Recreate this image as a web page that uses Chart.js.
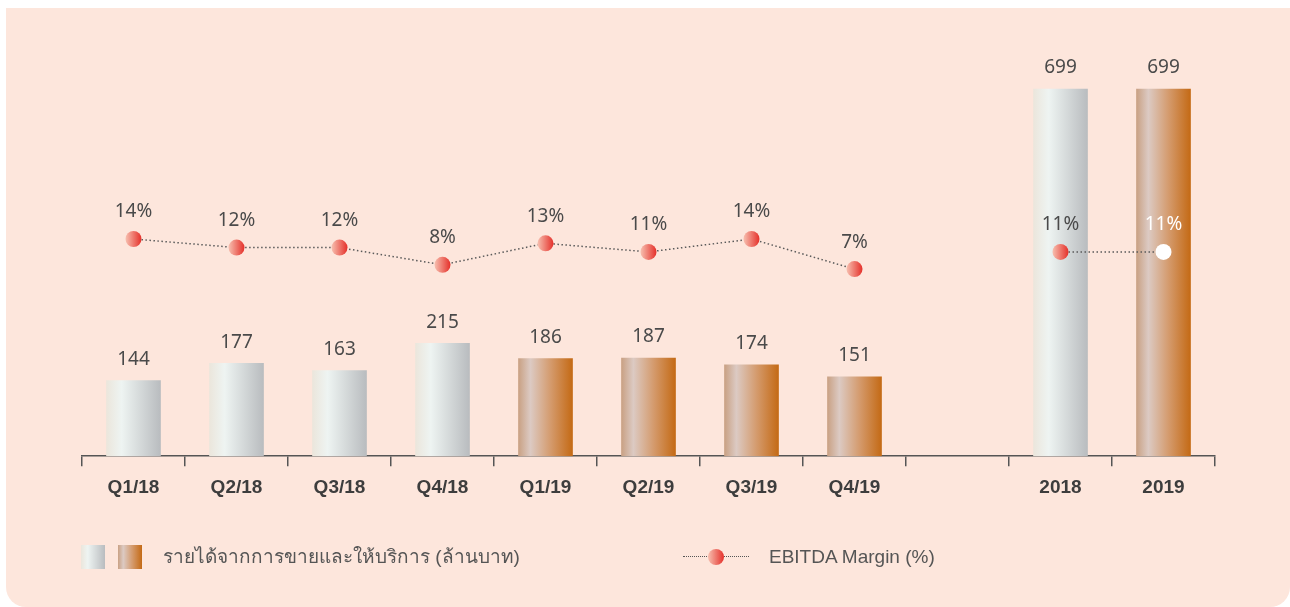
<!DOCTYPE html>
<html>
<head>
<meta charset="utf-8">
<script src="https://cdn.jsdelivr.net/npm/chart.js@4.4.0/dist/chart.umd.min.js"></script>
<style>
    body { margin: 0; background: #ffffff; width: 1290px; height: 607px; overflow: hidden; position: relative; }
    #card { position: absolute; left: 6px; top: 8px; width: 1284px; height: 599px; background: #fde6dc; border-radius: 0 0 20px 20px; }
    #wrap { position: absolute; left: 0; top: 0; width: 1290px; height: 607px; }
    .legend { position: absolute; top: 544px; height: 26px; font-family: "Liberation Sans", "Noto Sans", sans-serif; font-size: 19px; color: #555555; line-height: 26px; }
    .sw { position: absolute; top: 1px; width: 24px; height: 24px; }
    .grey { background: linear-gradient(to right, #ebe6dc 0%, #eef4f2 28%, #b9bcbf 100%); }
    .orange { background: linear-gradient(to right, #c9a184 0%, #dccac3 22%, #d49a6c 60%, #c46a15 100%); }
    .dots { position: absolute; top: 12px; width: 66px; border-top: 1.5px dotted #555555; }
    .dot { position: absolute; top: 5px; width: 16px; height: 16px; border-radius: 50%; background: linear-gradient(to right, #f7c0b0, #e5302a); }
</style>
</head>
<body>
<div id="card"></div>
<div id="wrap"><canvas id="chart"></canvas></div>
<div class="legend" style="left:0;">
    <div class="sw grey" style="left:81px;"></div>
    <div class="sw orange" style="left:118px;"></div>
    <span style="position:absolute; left:163px; white-space:nowrap;">รายได้จากการขายและให้บริการ (ล้านบาท)</span>
</div>
<div class="legend" style="left:0;">
    <div class="dots" style="left:683px;"></div>
    <div class="dot" style="left:708px;"></div>
    <span style="position:absolute; left:769px; white-space:nowrap;">EBITDA Margin (%)</span>
</div>
<script>
const categories = ['Q1/18', 'Q2/18', 'Q3/18', 'Q4/18', 'Q1/19', 'Q2/19', 'Q3/19', 'Q4/19', '', '2018', '2019'];
const barYear = ['2018', '2018', '2018', '2018', '2019', '2019', '2019', '2019', '', '2018', '2019'];
const revenue = [144, 177, 163, 215, 186, 187, 174, 151, null, 699, 699];
const ebitdaMargin = [14, 12, 12, 8, 13, 11, 14, 7, null, 11, 11];

const BAR_W = 54;

function barGradient(context) {
    const chart = context.chart;
    if (!chart.chartArea) return '#cccccc';
    const x = chart.scales.x.getPixelForValue(context.dataIndex);
    const g = chart.ctx.createLinearGradient(x - BAR_W / 2, 0, x + BAR_W / 2, 0);
    if (barYear[context.dataIndex] === '2019') {
        g.addColorStop(0, '#c9a184');
        g.addColorStop(0.22, '#dccac3');
        g.addColorStop(0.6, '#d49a6c');
        g.addColorStop(1, '#c46a15');
    } else {
        g.addColorStop(0, '#ebe6dc');
        g.addColorStop(0.28, '#eef4f2');
        g.addColorStop(1, '#b9bcbf');
    }
    return g;
}

function pointGradient(context) {
    const chart = context.chart;
    if (!chart.chartArea) return '#e5302a';
    if (context.dataIndex === categories.length - 1) return '#ffffff';
    const x = chart.scales.x.getPixelForValue(context.dataIndex);
    const g = chart.ctx.createLinearGradient(x - 8, 0, x + 8, 0);
    g.addColorStop(0, '#f7c0b0');
    g.addColorStop(1, '#e5302a');
    return g;
}

const valueLabels = {
    id: 'valueLabels',
    afterDatasetsDraw(chart) {
        const ctx = chart.ctx;
        ctx.save();
        ctx.textAlign = 'center';
        ctx.textBaseline = 'middle';
        ctx.font = '19px "Noto Sans", "Liberation Sans", sans-serif';
        chart.getDatasetMeta(1).data.forEach(function (bar, i) {
            if (revenue[i] === null) return;
            ctx.fillStyle = '#4a4a4a';
            ctx.fillText(String(revenue[i]), bar.x, bar.y - 21);
        });
        chart.getDatasetMeta(0).data.forEach(function (pt, i) {
            if (ebitdaMargin[i] === null) return;
            ctx.fillStyle = i === categories.length - 1 ? '#ffffff' : '#4a4a4a';
            ctx.fillText(ebitdaMargin[i] + '%', pt.x, pt.y - 27);
        });
        ctx.restore();
    }
};

const chart = new Chart(document.getElementById('chart'), {
    data: {
        labels: categories,
        datasets: [
            {
                type: 'line',
                label: 'EBITDA Margin (%)',
                data: ebitdaMargin,
                yAxisID: 'y1',
                borderColor: '#5a5a5a',
                borderWidth: 1.5,
                borderDash: [1.5, 2.5],
                pointRadius: 8,
                pointHoverRadius: 8,
                pointBorderWidth: 0,
                pointBackgroundColor: pointGradient,
                spanGaps: false,
                order: 0
            },
            {
                type: 'bar',
                label: 'รายได้จากการขายและให้บริการ (ล้านบาท)',
                data: revenue,
                yAxisID: 'y',
                backgroundColor: barGradient,
                barThickness: BAR_W,
                order: 1
            }
        ]
    },
    options: {
        responsive: true,
        maintainAspectRatio: false,
        animation: false,
        layout: {
            padding: { left: 82, right: 75, top: 36, bottom: 98 }
        },
        plugins: {
            legend: { display: false },
            tooltip: { enabled: false }
        },
        scales: {
            x: {
                offset: true,
                grid: {
                    offset: true,
                    drawOnChartArea: false,
                    drawTicks: true,
                    tickLength: 10,
                    color: '#555555',
                    lineWidth: 1.5
                },
                border: { display: true, color: '#555555', width: 1.5 },
                ticks: {
                    padding: 10,
                    color: '#3d3d3d',
                    font: { family: '"Liberation Sans", Arial, sans-serif', size: 19, weight: 'bold' }
                }
            },
            y: {
                display: false,
                min: 0,
                max: 800
            },
            y1: {
                display: false,
                min: -36.5,
                max: 61.2
            }
        }
    },
    plugins: [valueLabels]
});
</script>
</body>
</html>
